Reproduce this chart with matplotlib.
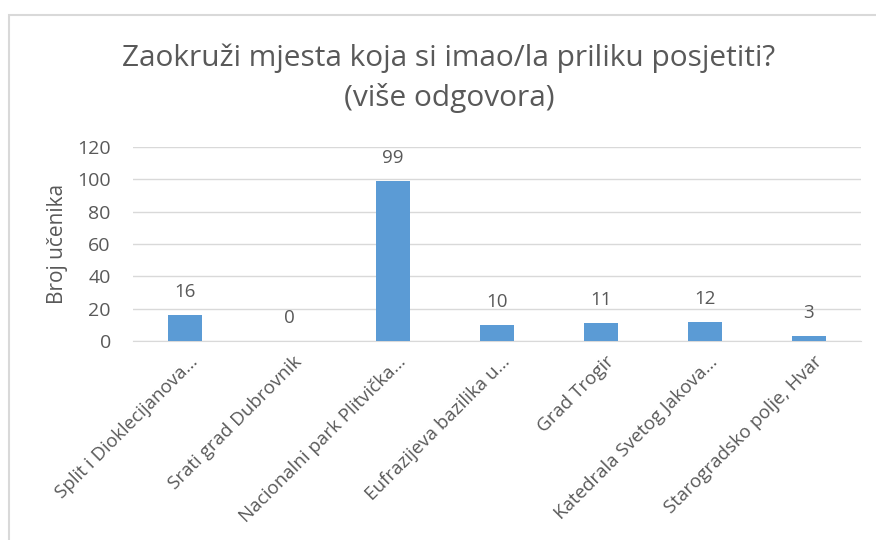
import matplotlib
matplotlib.use("Agg")
import matplotlib.pyplot as plt
import matplotlib.transforms as mtransforms
from matplotlib.patches import Rectangle

# data
categories = ["Split i Dioklecijanova…", "Srati grad Dubrovnik", "Nacionalni park Plitvička…",
              "Eufrazijeva bazilika u…", "Grad Trogir", "Katedrala Svetog Jakova…",
              "Starogradsko polje, Hvar"]
counts = [16, 0, 99, 10, 11, 12, 3]
y_ticks = [0, 20, 40, 60, 80, 100, 120]

plt.rcParams['font.family'] = ['Open Sans', 'DejaVu Sans']
txt = "#595959"; bar_col = "#5B9BD5"; grid_col = "#D9D9D9"

fig = plt.figure(figsize=(8.76, 5.40), dpi=100)
ax = fig.add_axes([133/876, 1-341/540, (861-133)/876, (341-147)/540])

x = range(len(categories))
ax.bar(x, counts, width=0.32, color=bar_col, zorder=3)
for xi, v in zip(x, counts):
    ax.annotate(str(v), (xi, v), xytext=(0, 16.5), textcoords="offset points",
                ha="center", va="center", fontsize=13.5, color=txt)

ax.set_ylim(0, 120); ax.set_xlim(-0.5, len(categories)-0.5)
ax.set_yticks(y_ticks)
ax.set_yticklabels([str(t) for t in y_ticks], fontsize=14, color=txt)
ax.set_xticks(list(x))
ax.set_xticklabels(categories, rotation=45, ha="right", va="center", rotation_mode="anchor",
                   fontsize=13.5, color=txt)
ax.tick_params(axis="y", length=0, pad=16)
ax.tick_params(axis="x", length=0, pad=0)
# shift the rotated labels so their ends sit just right of and below each tick
off = mtransforms.ScaledTranslation(10/100, -18/100, fig.dpi_scale_trans)
for lab in ax.get_xticklabels():
    lab.set_transform(lab.get_transform() + off)
ax.grid(axis="y", color=grid_col, linewidth=1, zorder=0)
for s in ["top", "right", "left"]: ax.spines[s].set_visible(False)
ax.spines["bottom"].set_color(grid_col)
ax.set_ylabel("Broj učenika", fontsize=15, color=txt)
ax.yaxis.set_label_coords(-0.089, 0.5)

fig.text(449/876, 1-58/540, "Zaokruži mjesta koja si imao/la priliku posjetiti?",
         ha="center", va="center", fontsize=21.5, color=txt)
fig.text(449/876, 1-98/540, "(više odgovora)", ha="center", va="center", fontsize=21.5, color=txt)

# chart area border (runs off the right and bottom edge like the screenshot)
fig.patches.append(Rectangle((9/876, -0.1), 1.0, 1.1 - 15/540, transform=fig.transFigure,
                             fill=False, edgecolor=grid_col, linewidth=1.5))

fig.savefig("out.png", dpi=100)
